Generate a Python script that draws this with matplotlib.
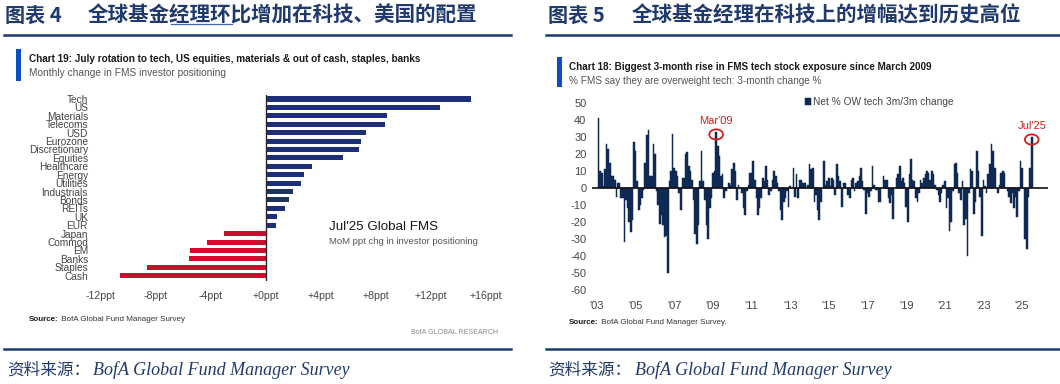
import matplotlib
matplotlib.use("Agg")
import matplotlib.pyplot as plt
from matplotlib.patches import Ellipse, Rectangle
from matplotlib.lines import Line2D
from matplotlib.text import Annotation
import numpy as np

# ---------------- data ----------------
# Left chart: Jul'25 Global FMS, MoM ppt change in investor positioning
categories = ["Tech", "US", "Materials", "Telecoms", "USD", "Eurozone", "Discretionary",
              "Equities", "Healthcare", "Energy", "Utilities", "Industrials", "Bonds",
              "REITs", "UK", "EUR", "Japan", "Commod", "EM", "Banks", "Staples", "Cash"]
mom_change = [14.9, 12.7, 8.8, 8.7, 7.3, 6.9, 6.8, 5.6, 3.4, 2.8, 2.6, 2.0, 1.7,
              1.4, 0.8, 0.75, -3.0, -4.3, -5.5, -5.6, -8.6, -10.6]
dark_slate_cats = ["Industrials", "Bonds"]
left_ticks = [-12, -8, -4, 0, 4, 8, 12, 16]
left_tick_labels = ["-12ppt", "-8ppt", "-4ppt", "+0ppt", "+4ppt", "+8ppt", "+12ppt", "+16ppt"]

# Right chart: net % OW tech, 3m/3m change, monthly Feb 2003 .. Jul 2025
series_start = "2003-02"
tech_chg_2003_2013 = [
    41, 10, 9, 1, 11, 26, 23, 15, 7, 7, 5, -5,
    3, 3, -6, -6, -32, -7, -12, -20, -26, -19, 27, 22,
    4, -13, -10, -6, -1, 15, 31, 34, 7, 7, 26, 20,
    -2, -10, -21, -16, -22, -29, -28, -50, 4, 10, 32, 12,
    10, 7, -3, -13, 6, 6, 20, 21, 13, 10, 5, -7,
    -27, -33, -22, 4, 22, 4, -7, -22, -30, -12, -6, 9,
    10, 33, 25, 19, 7, 8, -6, -2, 0, 3, 2, 11,
    15, 10, -7, 2, 0, -3, -12, -16, -2, 2, 9, 9,
    16, 5, -6, -16, -12, -6, 6, 4, 13, 5, -4, -2,
    5, 10, 7, 3, -2, -13, -19, -8, -6, -2, -11, 1,
    0, 12, -5, 8, -6,
]
tech_chg_2013_2025 = [
    5, 5, 3, 3, 0, 2, 14, 11, 12, -8, -4,
    -13, -19, -8, 0, 16, 2, 4, 6, 1, 6, 5,
    -4, 14, 7, 4, -11, 3, 3, 0, -4, -6,
    5, 6, -2, 3, 4, 7, 12, 4, -1, -15, -3,
    -5, -2, 13, 2, -1, -1, -8, -8, 0, 7,
    5, 5, -6, -9, -4, -18, 0, 6, 8, 13, 4,
    6, 3, -11, -20, 8, 17, 5, 4, -6, -8,
    -3, 5, 3, 6, 8, 10, 9, 5, 10, 8,
    2, -1, -4, -8, -3, 2, 4, -12, -6, -25, -20,
    -2, 14, 15, 9, -3, -7, 4, -22, -18, -40,
    -3, 11, 10, -15, -8, 22, 10, -5, -28, 5,
    1, -3, 8, 14, 26, 22, 12, 0, -3, 2,
    9, 10, 9, 0, -2, -5, -9, -3, -12, -5,
    -17, -2, 16, 12, 0, -30, -36, -5, 12, 30,
]
year_tick_labels = ["'03", "'05", "'07", "'09", "'11", "'13", "'15", "'17", "'19", "'21", "'23", "'25"]
highlight_months = ["2009-03", "2025-07"]
highlight_labels = ["Mar'09", "Jul'25"]

# ---------------- styling ----------------
W, H, DPI = 1060, 384, 100
NAVY_TITLE = "#203a6e"
RULE = "#1b3a72"
ACCENT = "#0b4fc4"
BLUE_BAR = "#1c2f78"
SLATE_BAR = "#1b3658"
RED_BAR = "#c8102e"
TECH_BAR = "#0f2a52"
RED_ANN = "#d81e1e"
GREY = "#454545"

SANS = ["Liberation Sans", "DejaVu Sans"]
CJK = ["Noto Sans CJK SC", "DejaVu Sans"]
SERIF_IT = ["Liberation Serif", "DejaVu Serif"]

plt.rcParams["font.family"] = SANS

fig = plt.figure(figsize=(W / DPI, H / DPI), dpi=DPI, facecolor="white")


def fx(px):
    return px / W


def fy(py):
    return 1 - py / H


# ---------------- headers ----------------
fig.text(fx(5), fy(15), "图表 4", family=CJK, fontsize=14.5, weight="bold", color=NAVY_TITLE, va="center")
fig.text(fx(88), fy(15), "全球基金经理环比增加在科技、美国的配置", family=CJK, fontsize=14.8,
         weight="bold", color=NAVY_TITLE, va="center")
fig.text(fx(548), fy(15), "图表 5", family=CJK, fontsize=14.5, weight="bold", color=NAVY_TITLE, va="center")
fig.text(fx(632), fy(15), "全球基金经理在科技上的增幅达到历史高位", family=CJK, fontsize=14.8,
         weight="bold", color=NAVY_TITLE, va="center")
fig.add_artist(Line2D([fx(171), fx(232)], [fy(24), fy(24)], color="#3f67b5", lw=0.9))

for x0, x1 in [(4, 511), (546, 1060)]:
    for yy in (34.5, 348.5):
        fig.add_artist(Line2D([fx(x0), fx(x1)], [fy(yy), fy(yy)], color=RULE, lw=1.8))

# accent bars
fig.add_artist(Rectangle((fx(16), fy(81)), fx(5), (81 - 49) / H, color=ACCENT, lw=0))
fig.add_artist(Rectangle((fx(557), fy(87)), fx(5), (87 - 57) / H, color=ACCENT, lw=0))

fig.text(fx(29), fy(59.5), "Chart 19: July rotation to tech, US equities, materials & out of cash, staples, banks",
         fontsize=7.2, weight="bold", color="#1a1a1a", va="center")
fig.text(fx(29), fy(73.5), "Monthly change in FMS investor positioning", fontsize=7.3, color="#555555", va="center")
fig.text(fx(569), fy(66.5), "Chart 18: Biggest 3-month rise in FMS tech stock exposure since March 2009",
         fontsize=7.1, weight="bold", color="#1a1a1a", va="center")
fig.text(fx(569), fy(80.5), "% FMS say they are overweight tech: 3-month change %", fontsize=7.2,
         color="#555555", va="center")

# ---------------- left chart ----------------
ax1 = fig.add_axes([fx(90), fy(281), (500 - 90) / W, (281 - 95) / H])
ypos = np.arange(len(categories))
colors = []
for c, v in zip(categories, mom_change):
    if v < 0:
        colors.append(RED_BAR)
    elif c in dark_slate_cats:
        colors.append(SLATE_BAR)
    else:
        colors.append(BLUE_BAR)
ax1.barh(ypos, mom_change, height=0.6, color=colors, lw=0)
ax1.set_xlim(-12.78, 17.04)
ax1.set_ylim(21.63, -0.476)
ax1.axvline(0, color="#2a2a2a", lw=1.0)
for s in ax1.spines.values():
    s.set_visible(False)
ax1.set_yticks(ypos)
ax1.set_yticklabels(categories, fontsize=7.3, color=GREY)
ax1.tick_params(axis="y", length=0, pad=1.5)
ax1.set_xticks(left_ticks)
ax1.set_xticklabels(left_tick_labels, fontsize=7.6, color=GREY)
ax1.tick_params(axis="x", length=0, pad=7)
fig.text(fx(329), fy(227), "Jul'25 Global FMS", fontsize=9.6, color="#1a1a1a", va="center")
fig.text(fx(329), fy(241.5), "MoM ppt chg in investor positioning", fontsize=6.8, color="#555555", va="center")

t_src1 = fig.text(fx(29), fy(319.5), "Source:", fontsize=5.8, weight="bold", color="#1a1a1a", va="center")
fig.text(fx(498), fy(332), "BofA GLOBAL RESEARCH", fontsize=5.1, color="#8a8a8a", va="center", ha="right")

# ---------------- right chart ----------------
tech_chg = tech_chg_2003_2013 + tech_chg_2013_2025
dates = np.arange(np.datetime64(series_start, "M"), np.datetime64(series_start, "M") + len(tech_chg))
base = np.datetime64("2003-01", "M")
months = (dates - base).astype(int)

ax2 = fig.add_axes([fx(592), fy(290), (1048 - 592) / W, (290 - 103) / H])
ax2.bar(months, tech_chg, width=1.0, color=TECH_BAR, edgecolor=TECH_BAR, lw=0.35,
        label="Net % OW tech 3m/3m change")
ax2.axhline(0, color="#111111", lw=1.2)
ax2.set_ylim(-60, 50)
ax2.set_xlim(-3.1, 280.1)
for s in ax2.spines.values():
    s.set_visible(False)
ax2.set_yticks(np.arange(-60, 51, 10))
ax2.set_yticklabels([str(v) for v in np.arange(-60, 51, 10)], fontsize=8.0, color=GREY)
ax2.tick_params(axis="y", length=0, pad=4)
ax2.set_xticks(np.arange(0, 265, 24))
ax2.set_xticklabels(year_tick_labels, fontsize=8.0, color=GREY)
ax2.tick_params(axis="x", length=0, pad=8)
ax2.legend(loc="upper left", bbox_to_anchor=((805 - 592) / 456, (290 - 97) / 187), frameon=False,
           fontsize=7.3, handlelength=0.6, handleheight=0.7, handletextpad=0.2, borderpad=0,
           borderaxespad=0, labelcolor=GREY)

for hm, lab in zip(highlight_months, highlight_labels):
    m = int((np.datetime64(hm, "M") - base).astype(int))
    v = tech_chg[int((np.datetime64(hm, "M") - dates[0]).astype(int))]
    ax2.add_patch(Ellipse((m, v - 1.5), width=8.5, height=6.0, fill=False, edgecolor=RED_ANN, lw=1.3))
    ax2.text(m, v + 6.5, lab, ha="center", va="center", fontsize=8.0, color=RED_ANN)

t_src2 = fig.text(fx(569), fy(323), "Source:", fontsize=5.8, weight="bold", color="#1a1a1a", va="center")

# "Source:" continuation texts anchored right after the bold label
for t, rest in [(t_src1, "BofA Global Fund Manager Survey"), (t_src2, "BofA Global Fund Manager Survey.")]:
    fig.add_artist(Annotation(" " + rest, xy=(1, 0.5), xycoords=t, va="center", ha="left",
                              fontsize=5.8, color="#333333"))

# ---------------- footers ----------------
for x_cjk, x_lat in [(7, 93), (548, 635)]:
    fig.text(fx(x_cjk), fy(370), "资料来源：", family=CJK, fontsize=12, color=NAVY_TITLE, va="center")
    fig.text(fx(x_lat), fy(370), "BofA Global Fund Manager Survey", family=SERIF_IT, fontsize=13,
             style="italic", color=NAVY_TITLE, va="center")

fig.savefig("out.png", dpi=DPI, facecolor="white")
